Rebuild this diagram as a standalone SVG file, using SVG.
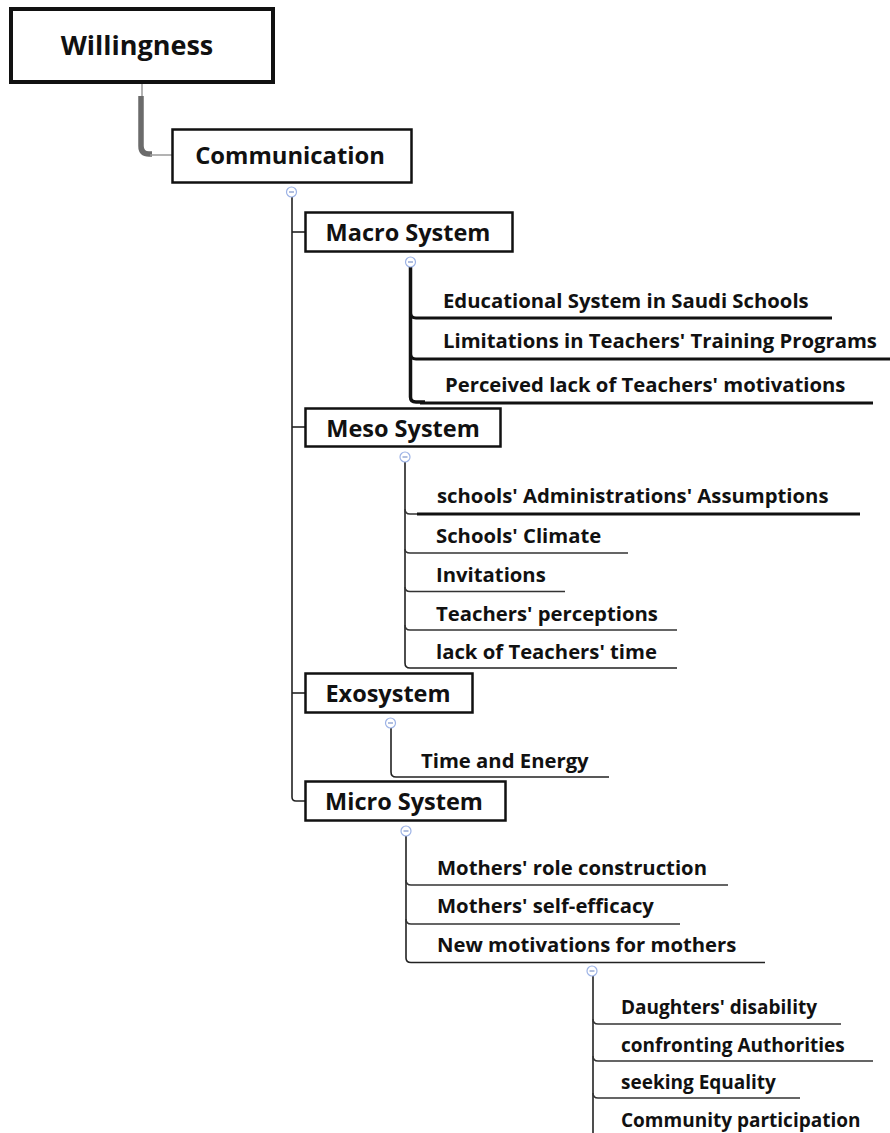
<svg xmlns="http://www.w3.org/2000/svg" width="890" height="1133" viewBox="0 0 890 1133">
  <style>
    .box { fill: #ffffff; stroke: #111111; stroke-width: 2.5; }
    .root { fill: #ffffff; stroke: #111111; stroke-width: 4; }
    .t { font-family: "Open Sans", "Noto Sans", "Liberation Sans", sans-serif; font-weight: 700; fill: #111111; }
    .t-root { font-size: 27px; }
    .t-main { font-size: 23.8px; }
    .t-sys { font-size: 23.5px; }
    .t-leaf { font-size: 20.3px; }
    .t-sub { font-size: 19px; }
    .trunk { fill: none; stroke: #222222; stroke-width: 1.6; }
    .heavy { fill: none; stroke: #111111; stroke-width: 3.5; }
    .under { fill: none; stroke: #333333; stroke-width: 1.6; }
    .under-heavy { fill: none; stroke: #111111; stroke-width: 2.8; }
    .toggle { fill: #ffffff; stroke: #9db3e6; stroke-width: 1.2; }
    .toggle-bar { stroke: #7f96cc; stroke-width: 1.2; }
  </style>

  <!-- connectors -->
  <g id="connectors">
    <!-- root to Communication -->
    <path d="M142,84 V96" fill="none" stroke="#9a9a9a" stroke-width="1.5"/>
    <path d="M141,96 V146 Q141,154 149,154 H152" fill="none" stroke="#6b6b6b" stroke-width="5.5"/>
    <path d="M150,155 H172" fill="none" stroke="#9a9a9a" stroke-width="1.5"/>

    <!-- Communication trunk -->
    <path class="trunk" d="M292,197 V797 Q292,801 296,801 H305"/>
    <path class="trunk" d="M292,232 H305"/>
    <path class="trunk" d="M292,427 H305"/>
    <path class="trunk" d="M292,693 H305"/>

    <!-- Macro System branch -->
    <path class="heavy" d="M410.5,267 V397 Q410.5,402 416,402 H425"/>
    <path class="under-heavy" d="M410.5,312 Q410.5,318 416,318 H832"/>
    <path class="under-heavy" d="M410.5,353 Q410.5,359 416,359 H890"/>
    <path class="under-heavy" d="M420,403 H873"/>

    <!-- Meso System branch -->
    <path class="trunk" d="M405,462 V663 Q405,668 410,668 H677"/>
    <path class="under" d="M405,509 Q405,514 410,514 H420"/>
    <path class="under-heavy" d="M417,514 H860"/>
    <path class="under" d="M405,549 Q405,553 410,553 H628"/>
    <path class="under" d="M405,587 Q405,591.5 410,591.5 H565"/>
    <path class="under" d="M405,625 Q405,630 410,630 H677"/>

    <!-- Exosystem branch -->
    <path class="trunk" d="M391,728 V772 Q391,777 396,777 H609"/>

    <!-- Micro System branch -->
    <path class="trunk" d="M406,836 V958 Q406,962.5 411,962.5 H765"/>
    <path class="under" d="M406,880 Q406,885 411,885 H728"/>
    <path class="under" d="M406,919 Q406,924 411,924 H680"/>

    <!-- New motivations branch -->
    <path class="trunk" d="M593,976 V1133"/>
    <path class="under" d="M593,1019 Q593,1024 598,1024 H841"/>
    <path class="under" d="M593,1056 Q593,1061 598,1061 H873"/>
    <path class="under" d="M593,1093 Q593,1098 598,1098 H800"/>
  </g>

  <!-- collapse toggles -->
  <g id="toggles">
    <circle class="toggle" cx="291.5" cy="192" r="5"/><line class="toggle-bar" x1="289" y1="192" x2="294" y2="192"/>
    <circle class="toggle" cx="410.5" cy="262" r="5"/><line class="toggle-bar" x1="408" y1="262" x2="413" y2="262"/>
    <circle class="toggle" cx="405" cy="457" r="5"/><line class="toggle-bar" x1="402.5" y1="457" x2="407.5" y2="457"/>
    <circle class="toggle" cx="390.5" cy="723" r="5"/><line class="toggle-bar" x1="388" y1="723" x2="393" y2="723"/>
    <circle class="toggle" cx="406" cy="831" r="5"/><line class="toggle-bar" x1="403.5" y1="831" x2="408.5" y2="831"/>
    <circle class="toggle" cx="592" cy="971" r="5"/><line class="toggle-bar" x1="589.5" y1="971" x2="594.5" y2="971"/>
  </g>

  <!-- nodes -->
  <g id="node-willingness">
    <rect class="root" x="11" y="9" width="262" height="73"/>
    <text class="t t-root" x="137" y="55" text-anchor="middle">Willingness</text>
  </g>
  <g id="node-communication">
    <rect class="box" x="172.5" y="129.5" width="239" height="53"/>
    <text class="t t-main" x="290" y="164" text-anchor="middle">Communication</text>
  </g>

  <g id="node-macro">
    <rect class="box" x="305.5" y="212.5" width="207" height="39"/>
    <text class="t t-sys" x="408" y="241" text-anchor="middle">Macro System</text>
  </g>
  <g id="node-macro-1"><text class="t t-leaf" x="443" y="308">Educational System in Saudi Schools</text></g>
  <g id="node-macro-2"><text class="t t-leaf" x="443" y="348">Limitations in Teachers' Training Programs</text></g>
  <g id="node-macro-3"><text class="t t-leaf" x="445" y="392">Perceived lack of Teachers' motivations</text></g>

  <g id="node-meso">
    <rect class="box" x="305.5" y="408.5" width="195" height="38"/>
    <text class="t t-sys" x="403" y="437" text-anchor="middle">Meso System</text>
  </g>
  <g id="node-meso-1"><text class="t t-leaf" x="437" y="503">schools' Administrations' Assumptions</text></g>
  <g id="node-meso-2"><text class="t t-leaf" x="436" y="543">Schools' Climate</text></g>
  <g id="node-meso-3"><text class="t t-leaf" x="436" y="582">Invitations</text></g>
  <g id="node-meso-4"><text class="t t-leaf" x="436" y="621">Teachers' perceptions</text></g>
  <g id="node-meso-5"><text class="t t-leaf" x="436" y="659">lack of Teachers' time</text></g>

  <g id="node-exo">
    <rect class="box" x="305.5" y="673.5" width="167" height="39"/>
    <text class="t t-sys" x="388" y="702" text-anchor="middle">Exosystem</text>
  </g>
  <g id="node-exo-1"><text class="t t-leaf" x="421" y="768">Time and Energy</text></g>

  <g id="node-micro">
    <rect class="box" x="305.5" y="781.5" width="200" height="39"/>
    <text class="t t-sys" x="404" y="810" text-anchor="middle">Micro System</text>
  </g>
  <g id="node-micro-1"><text class="t t-leaf" x="437" y="875">Mothers' role construction</text></g>
  <g id="node-micro-2"><text class="t t-leaf" x="437" y="913">Mothers' self-efficacy</text></g>
  <g id="node-micro-3"><text class="t t-leaf" x="437" y="952">New motivations for mothers</text></g>

  <g id="node-motiv-1"><text class="t t-sub" x="621" y="1014">Daughters' disability</text></g>
  <g id="node-motiv-2"><text class="t t-sub" x="621" y="1052">confronting Authorities</text></g>
  <g id="node-motiv-3"><text class="t t-sub" x="621" y="1089">seeking Equality</text></g>
  <g id="node-motiv-4"><text class="t t-sub" x="621" y="1127">Community participation</text></g>
</svg>
